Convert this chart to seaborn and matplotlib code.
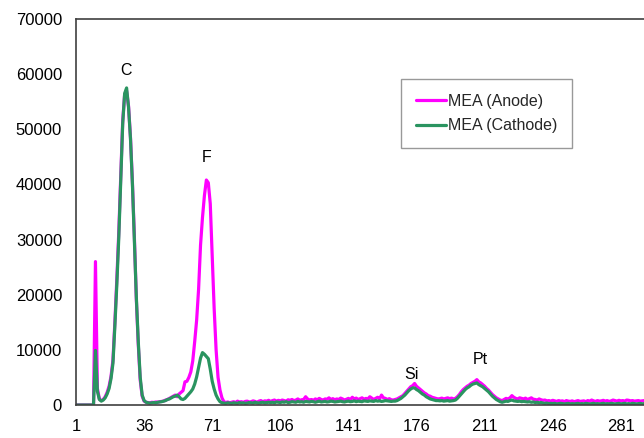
import numpy as np
import pandas as pd
import matplotlib
matplotlib.use("Agg")
import matplotlib.pyplot as plt
import seaborn as sns
from matplotlib.lines import Line2D

series_names = ["MEA (Anode)", "MEA (Cathode)"]
series_colors = ["#ff00ff", "#2a9460"]

anode = [
    0, 0, 0, 0, 0, 0, 0, 0, 0, 0,
    26000, 3000, 1100, 800, 1000, 1500, 2300, 3400, 5200, 8200,
    15200, 23000, 31500, 41500, 51500, 56300, 57000, 54200, 48500, 40300,
    30500, 19200, 11000, 4500, 1600, 700, 500, 450, 400, 500,
    450, 550, 500, 600, 650, 700, 900, 1000, 1200, 1400,
    1600, 1800, 1500, 2000, 2300, 2600, 4200, 4300, 5000, 6000,
    8000, 11500, 15400, 21000, 29000, 34000, 38000, 40800, 40300, 36500,
    27000, 17500, 10000, 5000, 2700, 1300, 600, 450, 550, 400,
    500, 600, 450, 700, 550, 600, 500, 650, 700, 550,
    600, 750, 650, 500, 700, 800, 600, 750, 700, 850,
    650, 800, 900, 700, 850, 750, 900, 800, 700, 950,
    850, 1000, 800, 900, 1100, 850, 950, 1000, 1500, 1100,
    900, 1000, 850, 1100, 950, 1200, 1000, 900, 1100, 1050,
    1300, 1000, 1150, 950, 1100, 1000, 1250, 1100, 900, 1050,
    1200, 1000, 1400, 1100, 1250, 1000, 1150, 1300, 1050, 1200,
    1100, 1500, 1250, 1000, 1200, 1400, 1100, 1800, 1300, 1200,
    1000, 1150, 950, 900, 1000, 1100, 1300, 1500, 1700, 2100,
    2500, 2900, 3300, 3500, 3900, 3400, 3100, 2800, 2500, 2200,
    2000, 1700, 1600, 1400, 1300, 1200, 1100, 1150, 1250, 1100,
    1200, 1300, 1150, 1250, 1100, 1200, 1500, 1900, 2400, 2800,
    3100, 3400, 3600, 3900, 4100, 4300, 4600, 4200, 4000, 3700,
    3400, 3000, 2700, 2300, 1900, 1600, 1300, 1100, 900, 800,
    1000, 1200, 1100, 1300, 1700, 1400, 1200, 1100, 1300, 1200,
    1100, 1250, 1000, 1150, 1300, 1050, 1000, 900, 1100, 950,
    850, 900, 750, 800, 700, 850, 750, 650, 800, 700,
    750, 600, 800, 700, 650, 750, 600, 700, 800, 650,
    700, 750, 600, 800, 700, 900, 750, 650, 800, 700,
    750, 850, 700, 800, 650, 750, 900, 800, 700, 850,
    750, 800, 700, 900, 850, 750, 800, 700, 750, 800,
    700, 750, 800,
]

cathode = [
    0, 0, 0, 0, 0, 0, 0, 0, 0, 0,
    9900, 2500, 1000, 700, 900, 1300, 2000, 3000, 4800, 7600,
    14500, 22000, 30500, 40500, 51000, 56500, 57500, 54000, 48300, 40000,
    30000, 19600, 11500, 5000, 1800, 800, 500, 400, 350, 400,
    450, 400, 500, 550, 600, 700, 800, 1000, 1100, 1300,
    1500, 1600, 1800, 1500, 1100, 1000, 1200, 1600, 2000, 2400,
    2900, 3800, 5100, 6800, 8500, 9500, 9200, 8800, 8400, 6500,
    4300, 2900, 1800, 1100, 600, 400, 350, 300, 400, 350,
    300, 400, 350, 300, 450, 350, 400, 300, 350, 450,
    400, 350, 500, 400, 350, 450, 500, 400, 450, 500,
    450, 500, 400, 550, 500, 450, 550, 500, 600, 450,
    500, 600, 550, 500, 650, 550, 600, 500, 650, 600,
    550, 650, 600, 500, 600, 700, 550, 600, 650, 550,
    600, 700, 650, 550, 600, 650, 700, 600, 550, 650,
    700, 600, 650, 750, 600, 700, 650, 600, 750, 700,
    650, 750, 700, 650, 800, 700, 750, 650, 700, 800,
    750, 700, 650, 700, 700, 800, 1000, 1200, 1500, 1800,
    2200, 2600, 2900, 3100, 3100, 2800, 2600, 2300, 2000, 1800,
    1500, 1300, 1100, 1000, 900, 800, 800, 750, 800, 700,
    750, 800, 700, 750, 800, 900, 1200, 1600, 2000, 2400,
    2800, 3100, 3300, 3600, 3800, 3900, 4000, 3700, 3500, 3300,
    3000, 2700, 2400, 2000, 1600, 1300, 1000, 800, 600, 500,
    600, 700, 650, 800, 900, 750, 700, 650, 700, 600,
    650, 600, 550, 600, 500, 550, 450, 500, 400, 450,
    350, 300, 350, 250, 300, 250, 300, 200, 250, 300,
    250, 200, 250, 300, 200, 250, 200, 250, 300, 200,
    250, 200, 300, 250, 200, 250, 300, 200, 250, 200,
    250, 300, 200, 250, 200, 300, 250, 200, 250, 300,
    200, 250, 300, 200, 250, 200, 300, 250, 200, 250,
    300, 200, 250,
]

x_ticks = [1, 36, 71, 106, 141, 176, 211, 246, 281]
y_ticks = [0, 10000, 20000, 30000, 40000, 50000, 60000, 70000]

peak_labels = ["C", "F", "Si", "Pt"]
peak_x = [26.5, 68, 173.5, 209]
peak_y = [60600, 44800, 5500, 8200]

channels = np.arange(1, len(anode) + 1)
df = pd.DataFrame({
    "channel": np.concatenate([channels, channels]),
    "counts": anode + cathode,
    "series": [series_names[0]] * len(anode) + [series_names[1]] * len(cathode),
})

sns.set_style("white")
plt.rcParams["font.family"] = ["Liberation Sans", "DejaVu Sans"]

fig = plt.figure(figsize=(6.44, 4.38), dpi=100)
ax = fig.add_axes([76 / 644, 1 - 405 / 438, 568 / 644, 386 / 438])

sns.lineplot(data=df, x="channel", y="counts", hue="series",
             hue_order=series_names, palette=series_colors,
             linewidth=2.3, ax=ax, legend=False)

ax.set_xlim(1, 292.9)
ax.set_ylim(0, 70000)
ax.set_xticks(x_ticks)
ax.set_xticklabels([str(t) for t in x_ticks])
ax.set_yticks(y_ticks)
ax.set_yticklabels([str(t) for t in y_ticks])
ax.set_xlabel("")
ax.set_ylabel("")

ax.tick_params(axis="x", length=0, pad=10, labelsize=12, colors="#000000")
ax.tick_params(axis="y", length=5, width=1, direction="out", pad=5,
               labelsize=12, color="#404040", labelcolor="#000000")

for side in ["left", "bottom", "top"]:
    ax.spines[side].set_visible(True)
    ax.spines[side].set_color("#404040")
    ax.spines[side].set_linewidth(1.2)
ax.spines["right"].set_visible(False)

for lab, lx, ly in zip(peak_labels, peak_x, peak_y):
    ax.text(lx, ly, lab, ha="center", va="center", fontsize=11.5, color="#000000")

handles = [Line2D([0], [0], color=c, lw=2.3) for c in series_colors]
leg = ax.legend(handles, series_names, loc="upper left",
                bbox_to_anchor=(0.573, 0.844), borderaxespad=0,
                fontsize=11.5, frameon=True, fancybox=False,
                handlelength=1.9, handletextpad=0.1,
                borderpad=0.9, labelspacing=0.6)
leg.get_frame().set_edgecolor("#808080")
leg.get_frame().set_linewidth(1.0)

fig.savefig("out.png", dpi=100)
